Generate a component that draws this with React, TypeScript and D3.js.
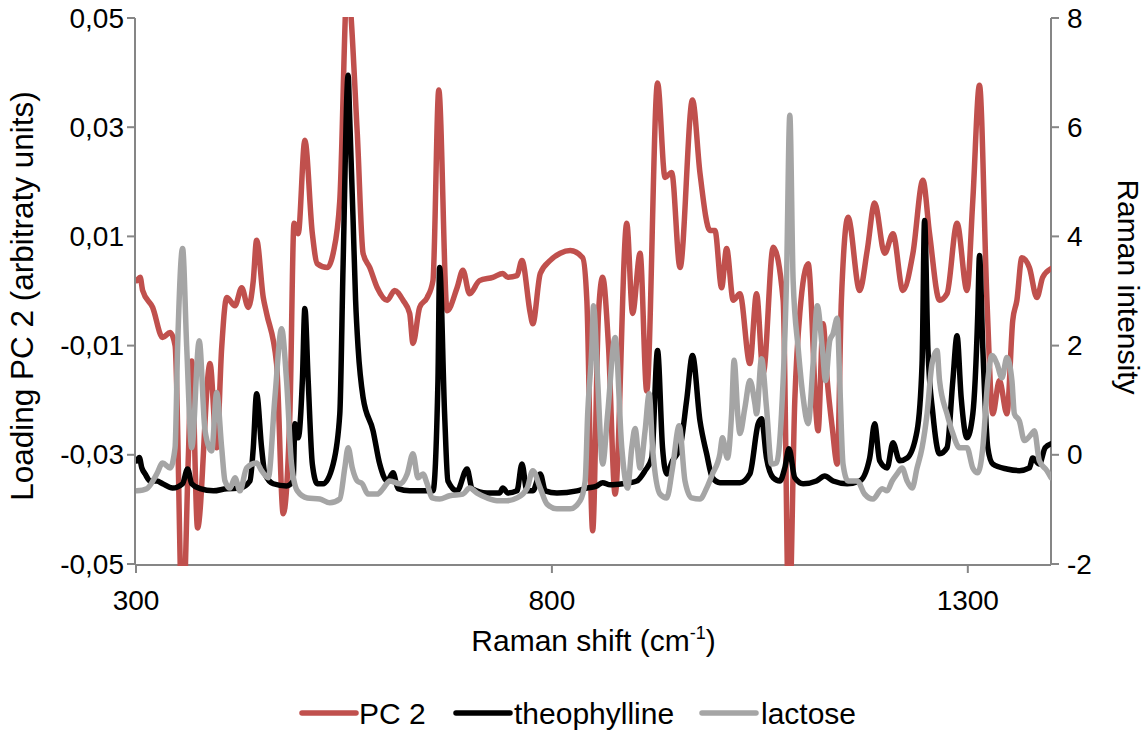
import React from 'react';
import * as d3 from 'd3';

type Pt = [number, number];

// Raman shift (cm-1), loading PC 2 (left axis)
const pc2: Pt[] = [
  [301, 0.0019], [305, 0.0025], [308, 0.0001], [320, -0.0030], [332, -0.0085], [341, -0.0076], [347, -0.0100],
  [356, -0.062], [363, -0.030], [367, -0.0128], [374, -0.0434], [389, -0.0133], [397, -0.0287], [403, -0.0104],
  [409, -0.0012], [419, -0.0027], [427, 0.0006], [435, -0.0030], [441, 0.0019], [445, 0.0093], [453, -0.0012],
  [457, -0.0041], [469, -0.0133], [477, -0.0408], [485, -0.0225], [490, 0.0124], [495, 0.0105], [503, 0.0276],
  [512, 0.0105], [518, 0.0050], [530, 0.0043], [537, 0.0069], [545, 0.0166], [554, 0.056], [566, 0.0289],
  [573, 0.0069], [581, 0.0043], [590, 0.0006], [602, -0.0017], [611, 0.0001], [621, -0.0017], [629, -0.0041],
  [633, -0.0096], [641, -0.0030], [650, -0.0012], [657, 0.0019], [664, 0.0368], [674, -0.0036], [686, 0.0006],
  [693, 0.0038], [701, -0.0005], [713, 0.0019], [729, 0.0025], [741, 0.0032], [747, 0.0025], [758, 0.0028],
  [764, 0.0056], [774, -0.0041], [777, -0.0060], [786, 0.0032], [798, 0.0056], [810, 0.0069], [822, 0.0074],
  [837, 0.0061], [842, -0.0017], [849, -0.0439], [856, -0.0041], [861, 0.0025], [868, -0.0100], [876, -0.0372],
  [890, 0.0124], [897, -0.0041], [906, 0.0069], [914, -0.0183], [927, 0.0381], [936, 0.0208], [944, 0.0217],
  [954, 0.0043], [969, 0.0350], [978, 0.0216], [990, 0.0111], [996, 0.0111], [1004, 0.0006], [1010, 0.0078],
  [1018, -0.0017], [1026, -0.0005], [1038, -0.0133], [1046, -0.0005], [1054, -0.0151], [1066, 0.0080],
  [1078, -0.0017], [1085, -0.062], [1092, -0.020], [1098, -0.0041], [1108, 0.0050], [1120, -0.0256],
  [1126, -0.0060], [1131, -0.0164], [1137, -0.0250], [1143, -0.0317], [1148, -0.0017], [1156, 0.0135],
  [1170, 0.0001], [1179, 0.0074], [1188, 0.0161], [1200, 0.0069], [1210, 0.0105], [1222, 0.0001],
  [1234, 0.0069], [1246, 0.0203], [1254, 0.0105], [1266, -0.0017], [1275, -0.0005], [1287, 0.0124],
  [1299, 0.0001], [1306, 0.0166], [1314, 0.0377], [1323, -0.0017], [1330, -0.0225], [1338, -0.0164],
  [1347, -0.0225], [1354, -0.0054], [1359, -0.0017], [1365, 0.0061], [1374, 0.0043], [1383, -0.0012],
  [1390, 0.0025], [1400, 0.0041],
];

// Raman intensity (right axis)
const theophylline: Pt[] = [
  [301, -0.11], [304, -0.05], [307, -0.24], [311, -0.35], [317, -0.48], [325, -0.48], [332, -0.53], [344, -0.61],
  [356, -0.53], [362, -0.26], [367, -0.53], [377, -0.62], [393, -0.66], [409, -0.62], [425, -0.61], [437, -0.48],
  [441, 0.13], [445, 1.12], [451, 0.13], [455, -0.35], [465, -0.53], [481, -0.57], [489, -0.48], [491, 0.57],
  [495, 0.31], [500, 1.36], [503, 2.68], [507, 1.36], [512, -0.17], [518, -0.53], [525, -0.53], [537, -0.17],
  [545, 0.75], [549, 3.5], [555, 6.95], [557, 6.13], [561, 4.29], [564, 2.83], [567, 1.96], [573, 1.05],
  [585, 0.44], [593, -0.17], [602, -0.48], [609, -0.33], [615, -0.62], [629, -0.66], [657, -0.66], [663, 1.36],
  [665, 3.43], [671, 0.75], [675, -0.48], [686, -0.66], [698, -0.26], [704, -0.62], [722, -0.70], [737, -0.70],
  [741, -0.61], [747, -0.70], [758, -0.66], [764, -0.17], [770, -0.66], [777, -0.66], [786, -0.35], [792, -0.66],
  [806, -0.70], [830, -0.66], [842, -0.61], [854, -0.57], [861, -0.51], [870, -0.55], [885, -0.53], [902, -0.48],
  [912, -0.29], [920, -0.06], [927, 1.91], [933, 0.13], [938, -0.35], [945, -0.11], [954, 0.13], [962, 1.0],
  [969, 1.82], [978, 0.62], [986, 0.02], [993, -0.42], [1002, -0.51], [1026, -0.51], [1038, -0.35], [1048, 0.57],
  [1052, 0.66], [1058, -0.06], [1066, -0.42], [1074, -0.48], [1080, -0.24], [1085, 0.11], [1092, -0.42],
  [1102, -0.53], [1118, -0.48], [1128, -0.39], [1138, -0.48], [1155, -0.53], [1170, -0.48], [1182, -0.06],
  [1188, 0.57], [1194, -0.11], [1203, -0.24], [1210, 0.22], [1218, -0.11], [1227, -0.06], [1239, 0.44],
  [1245, 1.67], [1248, 4.29], [1252, 1.96], [1258, 0.75], [1266, 0.02], [1275, 0.13], [1282, 1.36], [1287, 2.18],
  [1292, 1.05], [1299, 0.31], [1306, 0.75], [1312, 2.6], [1314, 3.65], [1318, 1.96], [1324, 0.13], [1330, -0.17],
  [1347, -0.26], [1362, -0.29], [1374, -0.24], [1378, -0.06], [1386, -0.17], [1393, 0.13], [1400, 0.2],
];

const lactose: Pt[] = [
  [301, -0.66], [313, -0.62], [325, -0.35], [332, -0.15], [341, -0.24], [347, 0.13], [350, 1.96], [356, 3.78],
  [361, 1.96], [367, 0.13], [376, 2.09], [383, 0.44], [391, 0.07], [397, 1.14], [403, 0.13], [407, -0.48],
  [413, -0.61], [419, -0.42], [425, -0.66], [433, -0.24], [445, -0.15], [451, -0.29], [459, -0.42], [467, 1.05],
  [475, 2.31], [481, 1.36], [487, -0.17], [494, -0.66], [506, -0.79], [521, -0.81], [533, -0.88], [545, -0.81],
  [551, -0.24], [555, 0.13], [560, -0.24], [566, -0.48], [572, -0.53], [579, -0.72], [590, -0.72], [597, -0.62],
  [605, -0.48], [617, -0.53], [626, -0.35], [633, 0.02], [639, -0.42], [645, -0.35], [650, -0.53], [656, -0.79],
  [665, -0.81], [677, -0.75], [693, -0.72], [701, -0.61], [710, -0.70], [722, -0.79], [734, -0.84], [746, -0.84],
  [758, -0.79], [770, -0.62], [777, -0.29], [786, -0.61], [794, -0.90], [806, -0.99], [822, -0.99], [834, -0.84],
  [840, -0.48], [843, 0.75], [848, 1.96], [850, 2.73], [855, 1.36], [861, -0.17], [867, 0.75], [876, 2.15],
  [884, 0.13], [891, -0.61], [896, 0.13], [900, 0.48], [906, -0.24], [912, 0.44], [917, 1.12], [921, 0.13],
  [930, -0.72], [938, -0.79], [945, -0.24], [953, 0.53], [960, -0.48], [968, -0.79], [978, -0.81], [986, -0.61],
  [993, -0.35], [1002, 0.02], [1005, 0.31], [1011, -0.06], [1016, 0.75], [1019, 1.73], [1024, 0.62], [1026, 0.39],
  [1032, 0.86], [1038, 1.36], [1044, 0.94], [1046, 0.75], [1052, 1.76], [1058, 0.86], [1064, -0.17], [1070, -0.15],
  [1076, 0.75], [1082, 3.19], [1086, 6.22], [1090, 3.19], [1096, 1.96], [1102, 1.05], [1108, 0.57], [1114, 1.67],
  [1119, 2.73], [1125, 1.96], [1129, 1.36], [1134, 2.09], [1138, 2.22], [1143, 2.5], [1146, 1.36], [1150, -0.17],
  [1156, -0.48], [1167, -0.48], [1176, -0.72], [1186, -0.81], [1197, -0.62], [1203, -0.66], [1209, -0.48],
  [1215, -0.35], [1221, -0.24], [1227, -0.48], [1233, -0.61], [1239, -0.24], [1245, 0.13], [1251, 0.75],
  [1257, 1.67], [1263, 1.91], [1266, 1.36], [1275, 0.75], [1282, 0.39], [1290, 0.13], [1299, 0.13], [1306, -0.24],
  [1312, -0.33], [1318, 0.13], [1324, 1.36], [1329, 1.82], [1335, 1.67], [1341, 1.41], [1347, 1.78], [1353, 1.36],
  [1356, 0.75], [1362, 0.62], [1368, 0.26], [1377, 0.39], [1380, 0.44], [1386, -0.11], [1395, -0.29], [1400, -0.42],
];

const leftTicks = [-0.05, -0.03, -0.01, 0.01, 0.03, 0.05];
const rightTicks = [-2, 0, 2, 4, 6, 8];
const xTicks = [300, 800, 1300];
const seriesNames = ['PC 2', 'theophylline', 'lactose'];
const seriesColors = ['#C0504D', '#000000', '#A5A5A5'];

const FONT = '"Liberation Sans", Arial, sans-serif';
const AXIS = '#868686';

const fmtLeft = (v: number) => (v < 0 ? '-' : '') + Math.abs(v).toFixed(2).replace('.', ',');
const fmtRight = (v: number) => (v < 0 ? '-' : '') + String(Math.abs(v));

export default function App() {
  const W = 1145, H = 731;
  const left = 136, right = 1051, top = 18, bottom = 564;
  const fs = 28;
  const ft = 30;

  const x = d3.scaleLinear().domain([300, 1400]).range([left, right]);
  const yL = d3.scaleLinear().domain([-0.05, 0.05]).range([bottom, top]);
  const yR = d3.scaleLinear().domain([-2, 8]).range([bottom, top]);

  const lineL = d3.line<Pt>().x(d => x(d[0])).y(d => yL(d[1])).curve(d3.curveMonotoneX);
  const lineR = d3.line<Pt>().x(d => x(d[0])).y(d => yR(d[1])).curve(d3.curveMonotoneX);

  const paths = [lineL(pc2), lineR(theophylline), lineR(lactose)];

  const legendItems = [
    { lx: 302, tx: 359 },
    { lx: 456, tx: 514 },
    { lx: 702, tx: 761 },
  ];
  const legendY = 713;

  return (
    <svg width={W} height={H} style={{ position: 'absolute', left: 0, top: 0, background: '#fff' }}
      fontFamily={FONT}>
      <defs>
        <clipPath id="plotClip">
          <rect x={left} y={top - 1} width={right - left} height={bottom - top + 3} />
        </clipPath>
      </defs>
      <rect x={0} y={0} width={W} height={H} fill="#fff" />

      {/* axes */}
      <g stroke={AXIS} strokeWidth={2} fill="none">
        <line x1={left - 1} y1={top} x2={left - 1} y2={bottom + 1} />
        <line x1={right} y1={top} x2={right} y2={bottom + 1} />
        <line x1={left - 1} y1={bottom + 1} x2={right} y2={bottom + 1} />
        {leftTicks.map(t => (
          <line key={'lt' + t} x1={left - 9} x2={left - 1} y1={yL(t)} y2={yL(t)} />
        ))}
        {rightTicks.map(t => (
          <line key={'rt' + t} x1={right} x2={right + 8} y1={yR(t)} y2={yR(t)} />
        ))}
        {xTicks.map(t => (
          <line key={'xt' + t} x1={x(t)} x2={x(t)} y1={bottom + 1} y2={bottom + 9} />
        ))}
      </g>

      {/* series */}
      <g clipPath="url(#plotClip)" fill="none" strokeWidth={5.5} strokeLinejoin="round" strokeLinecap="round">
        {paths.map((p, i) => (
          <path key={seriesNames[i]} d={p || ''} stroke={seriesColors[i]} />
        ))}
      </g>

      {/* tick labels */}
      <g fontSize={fs} fill="#000">
        {leftTicks.map(t => (
          <text key={'ll' + t} x={left - 12} y={yL(t)} textAnchor="end" dominantBaseline="central">{fmtLeft(t)}</text>
        ))}
        {rightTicks.map(t => (
          <text key={'rl' + t} x={right + 16} y={yR(t)} textAnchor="start" dominantBaseline="central">{fmtRight(t)}</text>
        ))}
        {xTicks.map(t => (
          <text key={'xl' + t} x={x(t)} y={610} textAnchor="middle">{t}</text>
        ))}
      </g>

      {/* axis titles */}
      <text x={(left + right) / 2} y={651} fontSize={ft} textAnchor="middle">
        Raman shift (cm<tspan fontSize={ft * 0.6} dy={-12}>-1</tspan><tspan dy={12}>)</tspan>
      </text>
      <text transform={`translate(33,296) rotate(-90)`} fontSize={31.5} textAnchor="middle">
        Loading PC 2 (arbitraty units)
      </text>
      <text transform={`translate(1118,287) rotate(90)`} fontSize={ft} textAnchor="middle">
        Raman intensity
      </text>

      {/* legend */}
      <g fontSize={ft}>
        {seriesNames.map((n, i) => (
          <g key={'lg' + n}>
            <line x1={legendItems[i].lx} x2={legendItems[i].lx + 54} y1={legendY} y2={legendY}
              stroke={seriesColors[i]} strokeWidth={5.5} strokeLinecap="round" />
            <text x={legendItems[i].tx} y={legendY} dominantBaseline="central">{n}</text>
          </g>
        ))}
      </g>
    </svg>
  );
}
